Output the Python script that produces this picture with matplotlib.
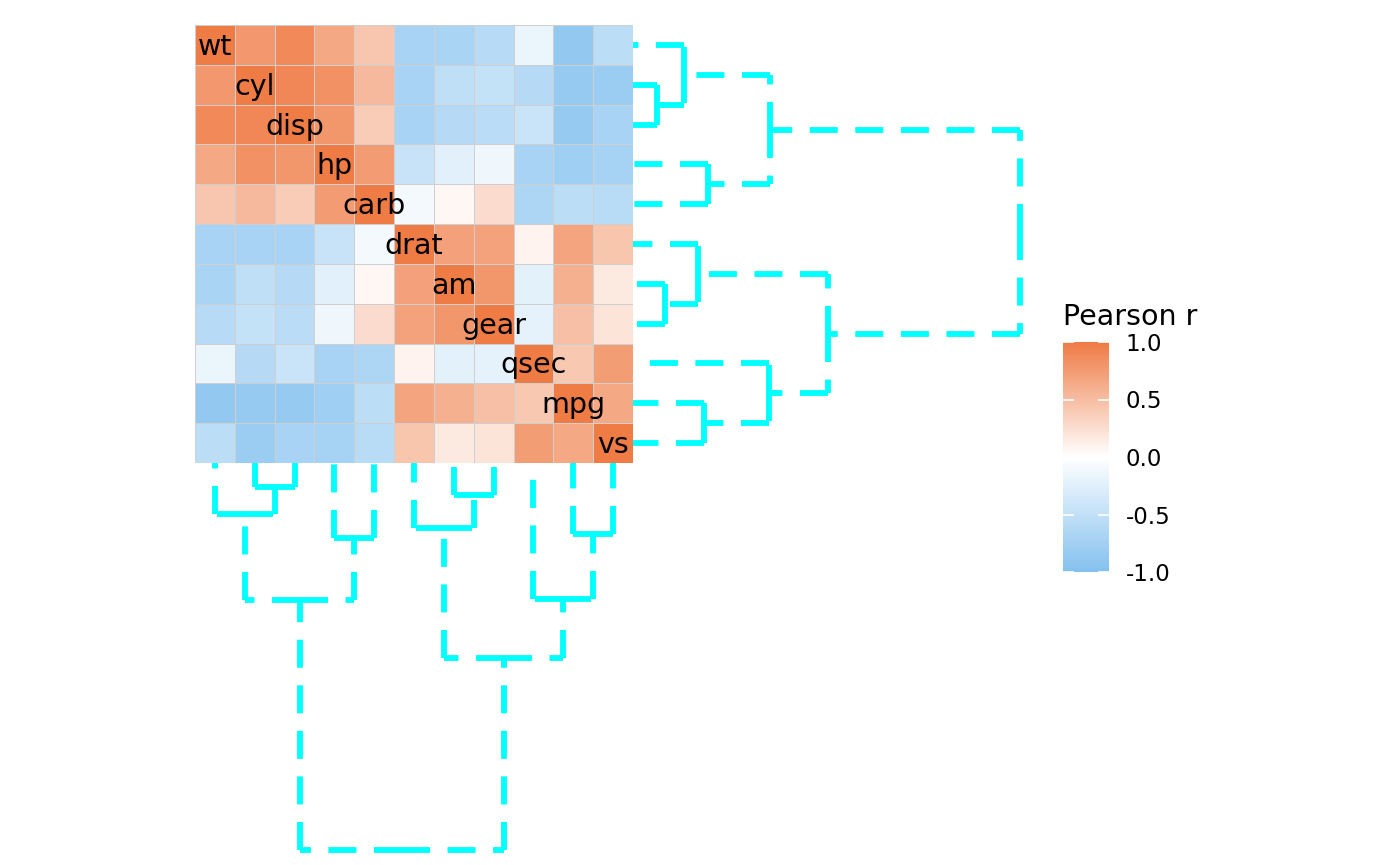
import matplotlib
matplotlib.use('Agg')

import numpy as np
import matplotlib.pyplot as plt
from matplotlib.colors import LinearSegmentedColormap, Normalize
from matplotlib.cm import ScalarMappable

# ---------------- data ----------------
variables = ['wt', 'cyl', 'disp', 'hp', 'carb', 'drat', 'am', 'gear', 'qsec', 'mpg', 'vs']

# Pearson r, rows/cols in the order above
corr = [
    [1.00, 0.78, 0.89, 0.66, 0.43, -0.71, -0.69, -0.58, -0.17, -0.87, -0.55],
    [0.78, 1.00, 0.90, 0.83, 0.53, -0.70, -0.52, -0.49, -0.59, -0.85, -0.81],
    [0.89, 0.90, 1.00, 0.79, 0.39, -0.71, -0.59, -0.56, -0.43, -0.85, -0.71],
    [0.66, 0.83, 0.79, 1.00, 0.75, -0.45, -0.24, -0.13, -0.71, -0.78, -0.72],
    [0.43, 0.53, 0.39, 0.75, 1.00, -0.09, 0.06, 0.27, -0.66, -0.55, -0.57],
    [-0.71, -0.70, -0.71, -0.45, -0.09, 1.00, 0.71, 0.70, 0.09, 0.68, 0.44],
    [-0.69, -0.52, -0.59, -0.24, 0.06, 0.71, 1.00, 0.79, -0.23, 0.60, 0.17],
    [-0.58, -0.49, -0.56, -0.13, 0.27, 0.70, 0.79, 1.00, -0.21, 0.48, 0.21],
    [-0.17, -0.59, -0.43, -0.71, -0.66, 0.09, -0.23, -0.21, 1.00, 0.42, 0.74],
    [-0.87, -0.85, -0.85, -0.78, -0.55, 0.68, 0.60, 0.48, 0.42, 1.00, 0.66],
    [-0.55, -0.81, -0.71, -0.72, -0.57, 0.44, 0.17, 0.21, 0.74, 0.66, 1.00],
]

# dendrogram merges (scipy-like: leaves 0..10, new nodes 11..)
merge_left = [1, 0, 3, 12, 6, 5, 9, 8, 16, 14]
merge_right = [2, 11, 4, 13, 7, 15, 10, 17, 18, 19]
merge_height = [0.24, 0.51, 0.75, 1.37, 0.32, 0.65, 0.71, 1.36, 1.95, 3.87]

cbar_ticks = [-1.0, -0.5, 0.0, 0.5, 1.0]

# ---------------- figure ----------------
W, H = 1400, 865
plt.rcParams['lines.scale_dashes'] = False
fig = plt.figure(figsize=(W / 100, H / 100), dpi=100)


def box(x0, y0, x1, y1):
    # pixel box (top-left origin) -> figure fraction rect
    return [x0 / W, (H - y1) / H, (x1 - x0) / W, (y1 - y0) / H]


cmap = LinearSegmentedColormap.from_list('pr', ['#84C1EF', '#FFFFFF', '#EF7B45'])
norm = Normalize(-1, 1)

n = len(variables)
ax = fig.add_axes(box(195, 25, 633, 463))
ax.pcolormesh(np.arange(n + 1), np.arange(n + 1), np.array(corr), cmap=cmap, norm=norm,
              edgecolors='#CFCFCF', linewidth=0.6)
ax.set_xlim(0, n)
ax.set_ylim(n, 0)
ax.axis('off')
for i, name in enumerate(variables):
    ax.text(i + 0.5, i + 0.55, name, ha='center', va='center', fontsize=20.5, color='black')

# ---------------- dendrograms ----------------
pos = {i: i + 0.5 for i in range(n)}
hgt = {i: 0.0 for i in range(n)}
for k, (a, b, h) in enumerate(zip(merge_left, merge_right, merge_height)):
    pos[n + k] = (pos[a] + pos[b]) / 2
    hgt[n + k] = h

root_h = max(merge_height)
dash_kw = dict(color='#00FFFF', linewidth=4.2, dashes=(20.2, 12.6), solid_capstyle='butt',
               dash_capstyle='butt', clip_on=False)

ax_r = fig.add_axes(box(633, 25, 1020, 463))
ax_b = fig.add_axes(box(195, 463, 633, 850))
for k, (a, b, h) in enumerate(zip(merge_left, merge_right, merge_height)):
    p = pos[n + k]
    for c in (a, b):
        # along the node bar, from parent midpoint to child
        ax_r.plot([h, h], [p, pos[c]], **dash_kw)
        ax_b.plot([p, pos[c]], [h, h], **dash_kw)
        # from parent height down to child height
        ax_r.plot([h, hgt[c]], [pos[c], pos[c]], **dash_kw)
        ax_b.plot([pos[c], pos[c]], [h, hgt[c]], **dash_kw)

ax_r.set_xlim(0, root_h)
ax_r.set_ylim(n, 0)
ax_r.axis('off')
ax_b.set_xlim(0, n)
ax_b.set_ylim(root_h, 0)
ax_b.axis('off')

# ---------------- colour bar ----------------
cax = fig.add_axes(box(1063, 342, 1109, 572))
cb = fig.colorbar(ScalarMappable(norm=norm, cmap=cmap), cax=cax, ticks=cbar_ticks)
cb.outline.set_visible(False)
cb.ax.set_yticklabels([f'{t:.1f}' for t in cbar_ticks])
cax.tick_params(axis='y', direction='in', left=True, right=True, color='white',
                length=8, width=1.2, labelsize=16.5, pad=12)
cax.set_title('Pearson r', fontsize=20.5, loc='left', pad=12, x=0.0)

fig.savefig('out.png', dpi=100)
